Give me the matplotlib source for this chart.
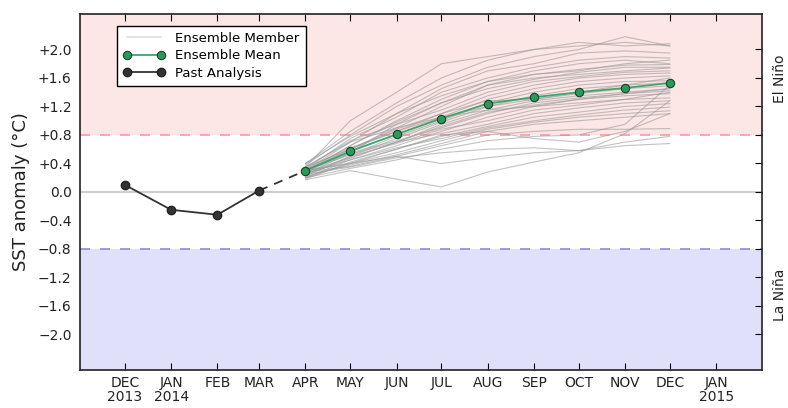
import datetime as dt
import matplotlib
matplotlib.use("Agg")
import matplotlib.pyplot as plt
from matplotlib.lines import Line2D

# months (1st of each month)
past_months = [dt.date(2013, 12, 1), dt.date(2014, 1, 1), dt.date(2014, 2, 1), dt.date(2014, 3, 1)]
past_values = [0.10, -0.25, -0.32, 0.02]

fc_months = [dt.date(2014, m, 1) for m in range(4, 13)]
mean_values = [0.30, 0.57, 0.81, 1.03, 1.24, 1.33, 1.40, 1.46, 1.53]

# ensemble members, APR..DEC 2014
members = [
    [0.35, 1.00, 1.40, 1.80, 1.90, 2.00, 2.05, 2.10, 2.05],
    [0.40, 0.85, 1.25, 1.60, 1.85, 2.00, 2.10, 2.05, 2.08],
    [0.38, 0.80, 1.20, 1.50, 1.75, 1.90, 2.00, 2.18, 2.05],
    [0.30, 0.70, 1.10, 1.45, 1.70, 1.80, 1.95, 1.98, 1.95],
    [0.32, 0.75, 1.05, 1.40, 1.60, 1.75, 1.85, 1.90, 1.88],
    [0.28, 0.65, 1.00, 1.30, 1.55, 1.70, 1.80, 1.85, 1.80],
    [0.35, 0.72, 0.95, 1.25, 1.50, 1.65, 1.72, 1.78, 1.79],
    [0.30, 0.60, 0.90, 1.20, 1.50, 1.60, 1.65, 1.70, 1.74],
    [0.25, 0.55, 0.95, 1.15, 1.40, 1.55, 1.62, 1.68, 1.70],
    [0.33, 0.62, 0.85, 1.10, 1.35, 1.50, 1.60, 1.65, 1.67],
    [0.27, 0.58, 0.80, 1.05, 1.30, 1.45, 1.55, 1.60, 1.63],
    [0.30, 0.52, 0.78, 1.00, 1.25, 1.40, 1.50, 1.55, 1.56],
    [0.22, 0.50, 0.75, 0.98, 1.20, 1.35, 1.45, 1.50, 1.53],
    [0.35, 0.60, 0.88, 1.10, 1.28, 1.30, 1.38, 1.45, 1.49],
    [0.28, 0.48, 0.70, 0.95, 1.15, 1.28, 1.35, 1.40, 1.45],
    [0.30, 0.55, 0.72, 0.90, 1.10, 1.25, 1.32, 1.38, 1.42],
    [0.20, 0.45, 0.65, 0.85, 1.05, 1.20, 1.30, 1.35, 1.38],
    [0.25, 0.50, 0.68, 0.88, 1.00, 1.15, 1.22, 1.30, 1.32],
    [0.32, 0.53, 0.70, 0.82, 0.95, 1.10, 1.18, 1.25, 1.28],
    [0.18, 0.42, 0.60, 0.78, 0.92, 1.05, 1.12, 1.20, 1.24],
    [0.26, 0.45, 0.62, 0.75, 0.90, 1.00, 1.08, 1.15, 1.19],
    [0.30, 0.40, 0.55, 0.72, 0.88, 0.98, 1.05, 1.10, 1.14],
    [0.22, 0.38, 0.52, 0.68, 0.85, 0.95, 1.00, 1.05, 1.10],
    [0.28, 0.36, 0.50, 0.65, 0.80, 0.85, 0.88, 0.88, 0.89],
    [0.20, 0.33, 0.45, 0.60, 0.72, 0.78, 0.80, 0.95, 1.50],
    [0.25, 0.35, 0.48, 0.55, 0.60, 0.62, 0.58, 0.65, 0.68],
    [0.17, 0.30, 0.18, 0.07, 0.28, 0.42, 0.55, 0.82, 1.28],
    [0.30, 0.40, 0.50, 0.40, 0.48, 0.55, 0.58, 0.70, 0.78],
    [0.35, 0.70, 0.90, 1.05, 1.15, 1.20, 1.25, 1.30, 1.40],
    [0.40, 0.78, 1.10, 1.35, 1.55, 1.65, 1.70, 1.80, 1.85],
    [0.30, 0.65, 0.98, 1.25, 1.45, 1.58, 1.68, 1.75, 1.75],
    [0.24, 0.47, 0.70, 0.92, 1.12, 1.22, 1.30, 1.38, 1.45],
    [0.29, 0.60, 0.85, 1.05, 1.20, 1.30, 1.40, 1.50, 1.60],
    [0.20, 0.40, 0.60, 0.80, 0.85, 0.75, 0.70, 0.85, 1.10],
]

tick_months = [dt.date(2013, 12, 1)] + [dt.date(2014, m, 1) for m in range(1, 13)] + [dt.date(2015, 1, 1)]
tick_labels = ["DEC\n2013", "JAN\n2014", "FEB", "MAR", "APR", "MAY", "JUN", "JUL",
               "AUG", "SEP", "OCT", "NOV", "DEC", "JAN\n2015"]
y_ticks = [-2.0, -1.6, -1.2, -0.8, -0.4, 0.0, 0.4, 0.8, 1.2, 1.6, 2.0]
y_labels = ["\u22122.0", "\u22121.6", "\u22121.2", "\u22120.8", "\u22120.4", "0.0",
            "+0.4", "+0.8", "+1.2", "+1.6", "+2.0"]

fig = plt.figure(figsize=(7.88, 4.08), dpi=100)
ax = fig.add_axes([0.1015, 0.093, 0.866, 0.873])

xmin, xmax = dt.date(2013, 11, 1), dt.date(2015, 2, 1)
ymin, ymax = -2.5, 2.5

# shaded regions
ax.axhspan(0.8, ymax, color="#fde6e6", zorder=0, lw=0)
ax.axhspan(ymin, -0.8, color="#e0e0fb", zorder=0, lw=0)
ax.axhline(0.8, color="#ff9a9a", ls=(0, (6, 6)), lw=1.2, zorder=1)
ax.axhline(-0.8, color="#8a8ae0", ls=(0, (6, 6)), lw=1.2, zorder=1)
ax.axhline(0.0, color="#cfcfcf", lw=1.5, zorder=1)

for m in members:
    ax.plot(fc_months, m, color="#9a9a9a", lw=0.8, alpha=0.6, zorder=2)

ax.plot(fc_months, mean_values, color="#3aa86b", lw=1.3, marker="o", ms=6,
        mfc="#2a9a5a", mec="#1f3f2a", mew=0.8, zorder=4)
ax.plot(past_months, past_values, color="#333333", lw=1.3, marker="o", ms=6,
        mfc="#333333", mec="#222222", zorder=4)
ax.plot([past_months[-1], fc_months[0]], [past_values[-1], mean_values[0]],
        color="#333333", lw=1.3, ls=(0, (5, 4)), zorder=3)

ax.set_xlim(xmin, xmax)
ax.set_ylim(ymin, ymax)
ax.set_xticks(tick_months)
ax.set_xticklabels(tick_labels, fontsize=10, color="#222222", linespacing=1.0)
ax.set_yticks(y_ticks)
ax.set_yticklabels(y_labels, fontsize=10, color="#222222")
ax.tick_params(axis="x", direction="in", top=True, bottom=True, length=5, pad=4)
ax.tick_params(axis="y", direction="in", left=False, right=True, length=5, pad=6)
ax.set_ylabel("SST anomaly (\u00b0C)", fontsize=13, color="#222222", labelpad=6)
for s in ax.spines.values():
    s.set_linewidth(1.2)
    s.set_color("#222222")

ax.text(1.026, 1.59, "El Ni\u00f1o", transform=ax.get_yaxis_transform(), rotation=90,
        ha="center", va="center", fontsize=10, color="#222222")
ax.text(1.026, -1.44, "La Ni\u00f1a", transform=ax.get_yaxis_transform(), rotation=90,
        ha="center", va="center", fontsize=10, color="#222222")

handles = [
    Line2D([], [], color="#dddddd", lw=1.2),
    Line2D([], [], color="#3aa86b", lw=1.3, marker="o", ms=6, mfc="#2a9a5a", mec="#1f3f2a", mew=0.8),
    Line2D([], [], color="#333333", lw=1.3, marker="o", ms=6, mfc="#333333", mec="#222222"),
]
leg = ax.legend(handles, ["Ensemble Member", "Ensemble Mean", "Past Analysis"],
                loc="upper left", bbox_to_anchor=(0.044, 0.985), numpoints=2,
                fontsize=9.5, fancybox=False, framealpha=1, borderpad=0.45,
                handlelength=3.2, labelspacing=0.35)
leg.get_frame().set_edgecolor("#000000")
leg.get_frame().set_linewidth(1.0)

fig.savefig("out.png", dpi=100)
